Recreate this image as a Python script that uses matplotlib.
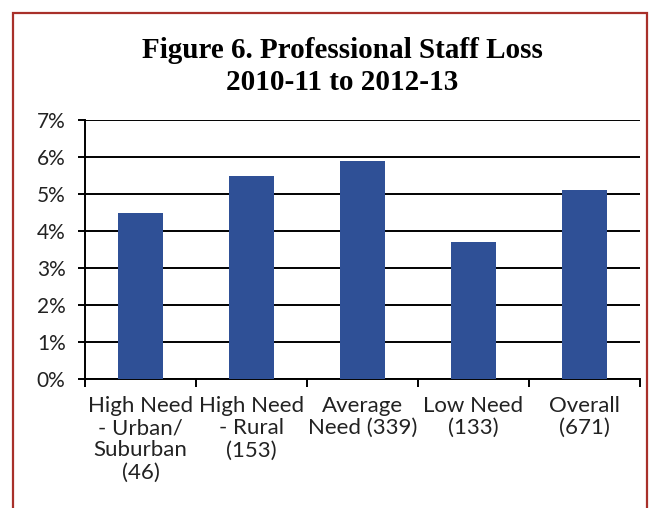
import matplotlib
matplotlib.use("Agg")
import matplotlib.pyplot as plt
from matplotlib.patches import Rectangle

groups = ["High Need\n- Urban/\nSuburban\n(46)",
          "High Need\n- Rural\n(153)",
          "Average\nNeed (339)",
          "Low Need\n(133)",
          "Overall\n(671)"]
loss_pct = [4.5, 5.5, 5.9, 3.7, 5.1]
yticks = [0, 1, 2, 3, 4, 5, 6, 7]
ytick_labels = ["0%", "1%", "2%", "3%", "4%", "5%", "6%", "7%"]

plt.rcParams["font.family"] = ["Lato", "DejaVu Sans"]

fig = plt.figure(figsize=(6.51, 5.08), dpi=100)
ax = fig.add_axes([85/651, 1 - 379/508, 555/651, 259/508])

x = range(len(groups))
ax.bar(x, loss_pct, width=0.4, color="#2f5096", zorder=3)

ax.set_xlim(-0.5, len(groups) - 0.5)
ax.set_ylim(0, 7)
ax.set_yticks(yticks)
ax.set_yticklabels(ytick_labels, fontsize=15, color="#222222")
ax.yaxis.grid(True, color="black", linewidth=1.4, zorder=1)
ax.set_axisbelow(True)

# category boundary ticks on the x axis
ax.set_xticks([i - 0.5 for i in range(len(groups) + 1)])
ax.set_xticklabels([])
ax.set_xticks(list(x), minor=True)
ax.set_xticklabels(groups, minor=True, fontsize=16, color="#222222",
                   linespacing=1.15)
ax.tick_params(axis="x", which="minor", length=0, pad=12)
ax.tick_params(axis="x", which="major", length=6, width=1.4, direction="out")
ax.tick_params(axis="y", length=5, width=1.4, direction="out", pad=9)

for side in ["top", "right"]:
    ax.spines[side].set_visible(False)
for side in ["left", "bottom"]:
    ax.spines[side].set_linewidth(1.4)
    ax.spines[side].set_color("black")

fig.text(342/651, 1 - 51/508, "Figure 6. Professional Staff Loss",
         ha="center", va="center", fontsize=21, fontweight="bold",
         family="Liberation Serif")
fig.text(342/651, 1 - 83/508, "2010-11 to 2012-13",
         ha="center", va="center", fontsize=21, fontweight="bold",
         family="Liberation Serif")

# red frame around the figure, open at the bottom
fig.add_artist(Rectangle((13/651, -0.05), (647 - 13)/651, 1.05 - 13/508,
                         transform=fig.transFigure, fill=False,
                         edgecolor="#a8302a", linewidth=1.6))

fig.savefig("out.png", dpi=100)
